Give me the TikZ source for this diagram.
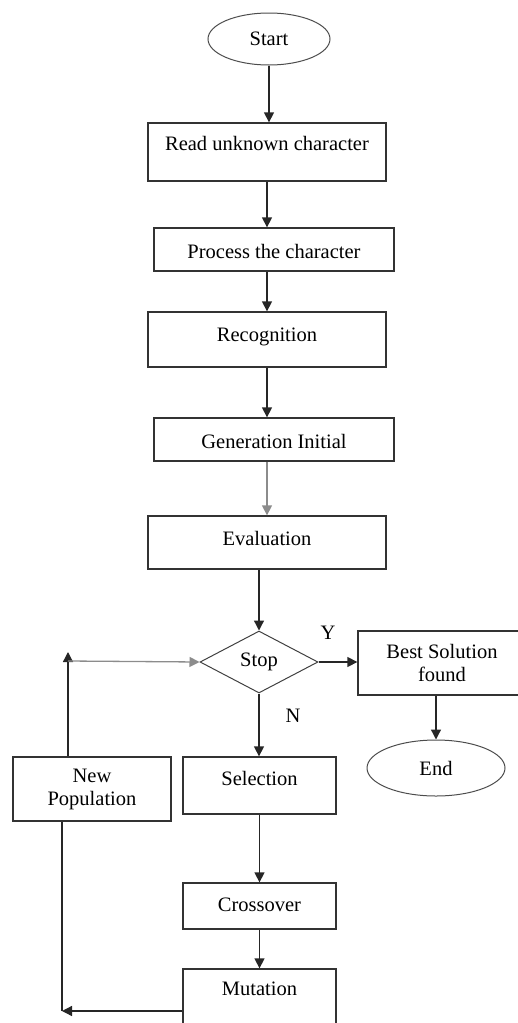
\documentclass[tikz,border=0pt]{standalone}
\usepackage{fontspec}
\setmainfont{Liberation Serif}
\usetikzlibrary{positioning,shapes.geometric,arrows.meta}
\tikzset{
  block/.style={shape=rectangle,draw=black!80,line width=1.3pt,inner sep=2pt,align=center},
  terminal/.style={shape=ellipse,draw=black!70,line width=1pt,inner sep=0pt},
  decision/.style={shape=diamond,draw=black!75,line width=1pt,inner sep=0pt,aspect=2},
  cap/.style={text height=14pt,text depth=#1},
  cap/.default=4pt,
  flow/.style={->,line width=1.3pt,draw=black!85},
  faint/.style={flow,draw=black!45}
}

\begin{document}
\begin{tikzpicture}[x=1pt,y=-1pt,>={Triangle[length=10pt,width=10pt]},
    font=\fontsize{20.5}{23}\selectfont]
  \useasboundingbox (0,0) rectangle (518,1023);
  % main column
  \node (start) [terminal,minimum width=122pt,minimum height=52pt] at (269,39) {Start};
  \node (read) [block,cap=16.4pt,minimum width=238pt,minimum height=58pt] at (267,152) {Read unknown character};
  \node (process) [block,text height=21.6pt,text depth=4pt,minimum width=240pt,minimum height=43pt] at (274,249.5) {Process the character};
  \node (recog) [block,cap=9.4pt,minimum width=238pt,minimum height=55pt] at (267,339.5) {Recognition};
  \node (gen) [block,text height=22.6pt,text depth=4pt,minimum width=240pt,minimum height=43pt] at (274,439.5) {Generation Initial};
  \node (eval) [block,cap=7.4pt,minimum width=238pt,minimum height=53pt] at (267,542.5) {Evaluation};
  \node (stop) [decision,minimum width=118pt,minimum height=62pt] at (259,662) {Stop};
  % right branch
  \node (best) [block,minimum width=168pt,minimum height=64pt] at (442,663) {Best Solution\\found};
  \node (end) [terminal,minimum width=138pt,minimum height=56pt] at (436,768) {End};
  % loop
  \node (select) [block,cap=13.4pt,minimum width=153pt,minimum height=57pt] at (259.5,785.5) {Selection};
  \node (cross) [block,cap,minimum width=153pt,minimum height=46pt] at (259.5,906) {Crossover};
  \node (mutate) [block,cap=26.4pt,minimum width=153pt,minimum height=66pt] at (259.5,1002) {Mutation};
  \node (newpop) [block,minimum width=158pt,minimum height=64pt] at (92,789) {New\\Population};
  \node (yes) at (328,633) {Y};
  \node (no) at (293,716) {N};
  \coordinate (back) at (62,1011);
  \coordinate (up) at (68,661);
  \coordinate (uptip) at (68,652);

  \draw [flow] (start.south) -- (start.south |- read.north);
  \draw [flow] (read.south) -- (read.south |- process.north);
  \draw [flow] (recog.north |- process.south) -- (recog.north);
  \draw [flow] (recog.south) -- (recog.south |- gen.north);
  \draw [faint] (eval.north |- gen.south) -- (eval.north);
  \draw [flow] (stop.north |- eval.south) -- (stop.north);
  \draw [flow] (stop.east) -- (stop.east -| best.west);
  \draw [flow] (end.north |- best.south) -- (end.north);
  \draw [flow] (stop.south) -- (stop.south |- select.north);
  \draw [flow] (select.south) -- (select.south |- cross.north);
  \draw [flow] (cross.south) -- (cross.south |- mutate.north);
  \draw [flow] (mutate.west |- back) -- (back);
  \draw [flow,-] (back |- newpop.south) -- (back);
  \draw [flow] (up |- newpop.north) -- (uptip);
  \draw [faint] (up) -- (stop.west);
\end{tikzpicture}
\end{document}
